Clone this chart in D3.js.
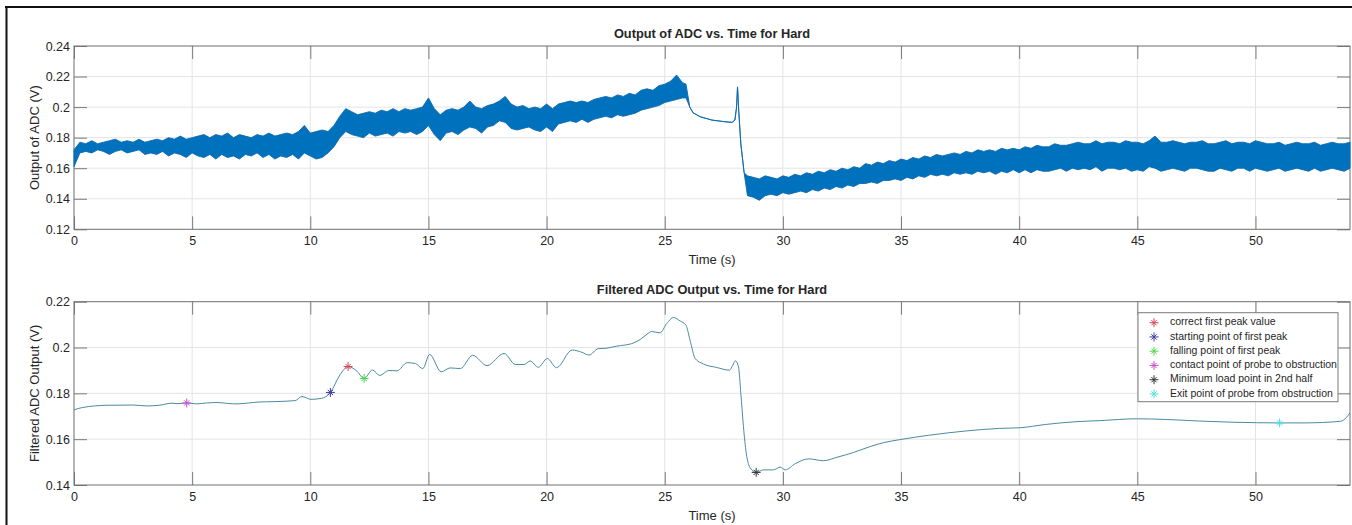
<!DOCTYPE html>
<html lang="en">
<head>
<meta charset="utf-8">
<script src="https://d3js.org/d3.v7.min.js"></script>
<style>
  body { margin: 0; background: #fff; }
  text { font-family: "Liberation Sans", Arial, sans-serif; fill: #262626; }
</style>
</head>
<body>
<script>
// raw ADC output, drawn as a min / max envelope of the noisy trace
const rawTime = [
  0, 0.25, 0.5, 0.75, 1, 1.25, 1.5, 1.75,
  2, 2.25, 2.5, 2.75, 3, 3.25, 3.5, 3.75,
  4, 4.25, 4.5, 4.75, 5, 5.25, 5.5, 5.75,
  6, 6.25, 6.5, 6.75, 7, 7.25, 7.5, 7.75,
  8, 8.25, 8.5, 8.75, 9, 9.25, 9.5, 9.75,
  10, 10.25, 10.5, 10.75, 11, 11.25, 11.5, 11.75,
  12, 12.25, 12.5, 12.75, 13, 13.25, 13.5, 13.75,
  14, 14.25, 14.5, 14.75, 15, 15.25, 15.5, 15.75,
  16, 16.25, 16.5, 16.75, 17, 17.25, 17.5, 17.75,
  18, 18.25, 18.5, 18.75, 19, 19.25, 19.5, 19.75,
  20, 20.25, 20.5, 20.75, 21, 21.25, 21.5, 21.75,
  22, 22.25, 22.5, 22.75, 23, 23.25, 23.5, 23.75,
  24, 24.25, 24.5, 24.75, 25, 25.25, 25.5, 25.75,
  25.9, 26.06, 26.2, 26.5, 27, 27.5, 27.85, 27.97, 28.04, 28.08, 28.13, 28.22, 28.36,
  28.5, 28.75, 29, 29.25, 29.5, 29.75, 30, 30.25,
  30.5, 30.75, 31, 31.25, 31.5, 31.75, 32, 32.25,
  32.5, 32.75, 33, 33.25, 33.5, 33.75, 34, 34.25,
  34.5, 34.75, 35, 35.25, 35.5, 35.75, 36, 36.25,
  36.5, 36.75, 37, 37.25, 37.5, 37.75, 38, 38.25,
  38.5, 38.75, 39, 39.25, 39.5, 39.75, 40, 40.25,
  40.5, 40.75, 41, 41.25, 41.5, 41.75, 42, 42.25,
  42.5, 42.75, 43, 43.25, 43.5, 43.75, 44, 44.25,
  44.5, 44.75, 45, 45.25, 45.5, 45.75, 46, 46.25,
  46.5, 46.75, 47, 47.25, 47.5, 47.75, 48, 48.25,
  48.5, 48.75, 49, 49.25, 49.5, 49.75, 50, 50.25,
  50.5, 50.75, 51, 51.25, 51.5, 51.75, 52, 52.25,
  52.5, 52.75, 53, 53.25, 53.5, 53.75, 54
];
const rawHigh = [
  0.172, 0.177, 0.176, 0.178, 0.176, 0.177, 0.178, 0.179,
  0.177, 0.178, 0.177, 0.179, 0.177, 0.178, 0.179, 0.178,
  0.180, 0.179, 0.181, 0.179, 0.180, 0.181, 0.182, 0.180,
  0.182, 0.181, 0.183, 0.180, 0.182, 0.181, 0.180, 0.182,
  0.181, 0.183, 0.181, 0.182, 0.183, 0.182, 0.184, 0.188,
  0.183, 0.184, 0.185, 0.184, 0.188, 0.194, 0.199, 0.197,
  0.195, 0.196, 0.197, 0.196, 0.198, 0.197, 0.199, 0.197,
  0.199, 0.198, 0.199, 0.200, 0.206, 0.199, 0.195, 0.198,
  0.199, 0.198, 0.200, 0.204, 0.200, 0.199, 0.201, 0.202,
  0.204, 0.207, 0.202, 0.200, 0.201, 0.199, 0.200, 0.199,
  0.202, 0.199, 0.202, 0.203, 0.204, 0.203, 0.204, 0.203,
  0.205, 0.206, 0.207, 0.206, 0.208, 0.207, 0.209, 0.208,
  0.211, 0.212, 0.211, 0.214, 0.215, 0.217, 0.221, 0.216,
  0.215, 0.200, 0.1963, 0.1937, 0.1915, 0.1905, 0.1900, 0.1915, 0.2000, 0.2132, 0.1980, 0.1760, 0.1570,
  0.155, 0.154, 0.153, 0.155, 0.154, 0.153, 0.155, 0.154,
  0.156, 0.155, 0.157, 0.156, 0.158, 0.157, 0.159, 0.158,
  0.160, 0.159, 0.161, 0.160, 0.163, 0.162, 0.164, 0.163,
  0.165, 0.164, 0.166, 0.165, 0.167, 0.166, 0.168, 0.167,
  0.169, 0.168, 0.169, 0.170, 0.169, 0.171, 0.170, 0.172,
  0.171, 0.172, 0.171, 0.173, 0.172, 0.173, 0.172, 0.174,
  0.173, 0.175, 0.174, 0.174, 0.176, 0.175, 0.175, 0.176,
  0.177, 0.176, 0.176, 0.178, 0.176, 0.177, 0.177, 0.176,
  0.178, 0.177, 0.177, 0.176, 0.178, 0.181, 0.177, 0.177,
  0.178, 0.177, 0.176, 0.177, 0.177, 0.178, 0.176, 0.176,
  0.177, 0.178, 0.176, 0.177, 0.177, 0.176, 0.178, 0.177,
  0.176, 0.176, 0.177, 0.175, 0.176, 0.177, 0.176, 0.176,
  0.177, 0.175, 0.176, 0.177, 0.176, 0.176, 0.177
];
const rawLow = [
  0.161, 0.170, 0.171, 0.170, 0.172, 0.171, 0.169, 0.171,
  0.172, 0.170, 0.171, 0.172, 0.169, 0.170, 0.169, 0.171,
  0.168, 0.170, 0.169, 0.167, 0.170, 0.168, 0.167, 0.169,
  0.166, 0.169, 0.167, 0.168, 0.166, 0.169, 0.168, 0.170,
  0.167, 0.169, 0.166, 0.168, 0.167, 0.169, 0.166, 0.170,
  0.168, 0.166, 0.167, 0.170, 0.174, 0.180, 0.184, 0.182,
  0.181, 0.180, 0.183, 0.181, 0.182, 0.183, 0.181, 0.184,
  0.183, 0.184, 0.182, 0.184, 0.188, 0.182, 0.178, 0.183,
  0.184, 0.182, 0.185, 0.187, 0.186, 0.183, 0.187, 0.188,
  0.191, 0.190, 0.186, 0.185, 0.186, 0.187, 0.185, 0.184,
  0.187, 0.184, 0.189, 0.190, 0.191, 0.190, 0.192, 0.190,
  0.192, 0.193, 0.194, 0.193, 0.195, 0.194, 0.195, 0.196,
  0.198, 0.199, 0.200, 0.201, 0.203, 0.204, 0.205, 0.206,
  0.206, 0.200, 0.1963, 0.1937, 0.1915, 0.1905, 0.1900, 0.1915, 0.2000, 0.2132, 0.1980, 0.1760, 0.1570,
  0.142, 0.141, 0.139, 0.142, 0.143, 0.142, 0.144, 0.143,
  0.144, 0.145, 0.144, 0.146, 0.145, 0.147, 0.146, 0.148,
  0.147, 0.149, 0.148, 0.150, 0.150, 0.151, 0.150, 0.152,
  0.152, 0.153, 0.152, 0.154, 0.153, 0.155, 0.154, 0.156,
  0.155, 0.156, 0.155, 0.157, 0.156, 0.157, 0.156, 0.158,
  0.157, 0.158, 0.156, 0.158, 0.157, 0.159, 0.157, 0.159,
  0.157, 0.159, 0.158, 0.158, 0.159, 0.160, 0.158, 0.160,
  0.159, 0.160, 0.159, 0.161, 0.158, 0.160, 0.160, 0.159,
  0.160, 0.158, 0.159, 0.158, 0.161, 0.160, 0.158, 0.159,
  0.160, 0.159, 0.158, 0.160, 0.160, 0.159, 0.158, 0.158,
  0.160, 0.159, 0.158, 0.160, 0.160, 0.158, 0.160, 0.159,
  0.158, 0.159, 0.160, 0.158, 0.159, 0.160, 0.159, 0.158,
  0.160, 0.158, 0.159, 0.160, 0.159, 0.158, 0.160
];

// filtered ADC output
const filtTime = [
  0, 0.35, 1.4, 2.5, 3.1, 3.6, 4.15, 4.4, 4.77, 5.2, 5.6, 6.05, 6.5, 6.9, 7.4, 7.8,
  8.5, 9.35, 9.65, 10.03, 10.47, 10.85, 11.25, 11.6, 11.94, 12.28, 12.63, 12.94, 13.32, 13.67,
  14.1, 14.45, 14.76, 15.05, 15.54, 15.92, 16.35, 16.87, 17.48, 18.2, 18.68, 19.05, 19.3, 19.65,
  20.03, 20.42, 21.08, 21.5, 21.8, 22.18, 22.52, 22.97, 23.6, 23.96, 24.3, 24.45, 24.8, 25.08,
  25.37, 25.65, 25.9, 26.07, 26.29, 26.64, 27.2, 27.74, 27.88, 27.99, 28.12, 28.22, 28.33, 28.45,
  28.62, 28.87, 29.18, 29.6, 29.89, 30.1, 30.52, 31.09, 31.72, 32.29, 32.99, 33.7, 34.27, 34.95,
  36.17, 37.76, 39.17, 40.05, 41.1, 42.35, 43.4, 45, 46.23, 47.64, 49.05, 51.02, 52.05, 53.6,
  53.85, 54
];
const filtValue = [
  0.1728, 0.1738, 0.1748, 0.1749, 0.1745, 0.1748, 0.1757, 0.1755, 0.1758, 0.1754, 0.1758, 0.1760, 0.1756, 0.1754, 0.1758, 0.1762,
  0.1764, 0.1768, 0.1786, 0.1774, 0.1778, 0.1804, 0.1880, 0.1917, 0.1900, 0.1865, 0.1902, 0.1878, 0.1900, 0.1898,
  0.1934, 0.1930, 0.1908, 0.1970, 0.1894, 0.1911, 0.1908, 0.1966, 0.1921, 0.1974, 0.1926, 0.1926, 0.1941, 0.1914,
  0.1952, 0.1912, 0.1989, 0.1979, 0.1967, 0.1995, 0.1997, 0.2006, 0.2017, 0.2035, 0.2062, 0.2070, 0.2064, 0.2104,
  0.2131, 0.2116, 0.2097, 0.2032, 0.1952, 0.1928, 0.1913, 0.1901, 0.1923, 0.1942, 0.1916, 0.1800, 0.1655, 0.1539,
  0.1474, 0.1455, 0.1466, 0.1466, 0.1478, 0.1466, 0.1493, 0.1514, 0.1506, 0.1521, 0.1542, 0.1568, 0.1585, 0.1598,
  0.1617, 0.1636, 0.1647, 0.1650, 0.1664, 0.1676, 0.1681, 0.1689, 0.1686, 0.1679, 0.1674, 0.1671, 0.1671, 0.1678,
  0.1695, 0.1715
];

// detected points
const markerNames = [
  "correct first peak value",
  "starting point of first peak",
  "falling point of first peak",
  "contact point of probe to obstruction",
  "Minimum load point in 2nd half",
  "Exit point of probe from obstruction"
];
const markerTime = [11.6, 10.85, 12.28, 4.77, 28.87, 51.02];
const markerValue = [0.1917, 0.1804, 0.1865, 0.1758, 0.1455, 0.1671];
const markerColors = ["#d9434f", "#3a3aa8", "#4fd64f", "#cf4fd0", "#333333", "#4fe0dc"];

const xTicks = [0, 5, 10, 15, 20, 25, 30, 35, 40, 45, 50];
const topYTicks = [0.12, 0.14, 0.16, 0.18, 0.2, 0.22, 0.24];
const bottomYTicks = [0.14, 0.16, 0.18, 0.2, 0.22];

const W = 1352, H = 525;
var svg = d3.select("body").append("svg")
  .attr("width", W)
  .attr("height", H);

// figure frame
svg.append("line").attr("x1", 5).attr("x2", W).attr("y1", 7).attr("y2", 7)
  .attr("stroke", "#111").attr("stroke-width", 2);
svg.append("line").attr("x1", 6.5).attr("x2", 6.5).attr("y1", 6).attr("y2", H)
  .attr("stroke", "#111").attr("stroke-width", 2);

// one matlab style axes box
function drawPanel(p) {
  var g = svg.append("g").attr("transform", "translate(" + p.left + "," + p.top + ")");
  var x = d3.scaleLinear().domain([0, 54]).range([0, p.width]);
  var y = d3.scaleLinear().domain(p.yDomain).range([p.height, 0]);

  // grid
  g.append("g").selectAll("line").data(xTicks.slice(1)).join("line")
    .attr("x1", d => x(d)).attr("x2", d => x(d))
    .attr("y1", 0).attr("y2", p.height)
    .attr("stroke", "#e4e4e4");
  g.append("g").selectAll("line").data(p.yTicks.slice(1, -1)).join("line")
    .attr("x1", 0).attr("x2", p.width)
    .attr("y1", d => y(d)).attr("y2", d => y(d))
    .attr("stroke", "#e4e4e4");

  // inner ticks on all four sides
  var tl = 13;
  var ax = [
    d3.axisBottom(x).tickValues(xTicks).tickSize(-tl).tickPadding(7).tickFormat(d3.format("d")),
    d3.axisTop(x).tickValues(xTicks).tickSize(-tl).tickFormat(""),
    d3.axisLeft(y).tickValues(p.yTicks).tickSize(-tl).tickPadding(4).tickFormat(d => String(+d.toFixed(2))),
    d3.axisRight(y).tickValues(p.yTicks).tickSize(-tl).tickFormat("")
  ];
  var pos = ["translate(0," + p.height + ")", "translate(0,0)", "translate(0,0)", "translate(" + p.width + ",0)"];
  ax.forEach(function(a, i) {
    var ag = g.append("g").attr("transform", pos[i]).call(a);
    ag.select(".domain").remove();
    ag.selectAll("line").attr("stroke", "#7a7a7a");
    ag.selectAll("text").attr("font-size", 12.5).attr("fill", "#262626")
      .attr("font-family", '"Liberation Sans", Arial, sans-serif');
  });

  g.append("rect").attr("width", p.width).attr("height", p.height)
    .attr("fill", "none").attr("stroke", "#6f6f6f").attr("stroke-width", 1);

  // titles
  g.append("text").attr("x", p.width / 2).attr("y", -8)
    .attr("text-anchor", "middle").attr("font-size", 12.8).attr("font-weight", "bold")
    .text(p.title);
  g.append("text").attr("x", p.width / 2).attr("y", p.height + 35)
    .attr("text-anchor", "middle").attr("font-size", 13)
    .text("Time (s)");
  g.append("text")
    .attr("transform", "translate(" + (36 - p.left) + "," + (p.height / 2) + ") rotate(-90)")
    .attr("text-anchor", "middle").attr("dominant-baseline", "middle").attr("font-size", 13)
    .text(p.yLabel);

  return {g: g, x: x, y: y};
}

// top panel: raw output
var topPanel = drawPanel({
  left: 74, top: 46, width: 1276, height: 183.3,
  yDomain: [0.12, 0.24], yTicks: topYTicks,
  title: "Output of ADC vs. Time for Hard", yLabel: "Output of ADC (V)"
});
var rawData = rawTime.map((t, i) => ({t: t, hi: rawHigh[i], lo: rawLow[i]}));
topPanel.g.append("path")
  .datum(rawData)
  .attr("fill", "#0072bd")
  .attr("stroke", "#0a6aae")
  .attr("stroke-width", 0.9)
  .attr("d", d3.area()
    .x(d => topPanel.x(d.t))
    .y0(d => topPanel.y(d.lo))
    .y1(d => topPanel.y(d.hi)));

// bottom panel: filtered output
var botPanel = drawPanel({
  left: 74, top: 301.7, width: 1276, height: 183.3,
  yDomain: [0.14, 0.22], yTicks: bottomYTicks,
  title: "Filtered ADC Output vs. Time for Hard", yLabel: "Filtered ADC Output (V)"
});
var filtData = filtTime.map((t, i) => ({t: t, v: filtValue[i]}));
botPanel.g.append("path")
  .datum(filtData)
  .attr("fill", "none")
  .attr("stroke", "#4b8aa3")
  .attr("stroke-width", 1)
  .attr("d", d3.line()
    .x(d => botPanel.x(d.t))
    .y(d => botPanel.y(d.v))
    .curve(d3.curveMonotoneX));

// asterisk marker = plus + times
function star(sel, size) {
  sel.append("path").attr("d", d3.symbol(d3.symbolPlus, size)());
  sel.append("path").attr("d", d3.symbol(d3.symbolTimes, size * 0.7)());
}

botPanel.g.append("g").selectAll("g").data(markerTime).join("g")
  .attr("transform", (d, i) => "translate(" + botPanel.x(d) + "," + botPanel.y(markerValue[i]) + ")")
  .attr("fill", "none")
  .attr("stroke", (d, i) => markerColors[i])
  .attr("stroke-width", 1)
  .each(function() { star(d3.select(this), 28); });

// legend
var lg = svg.append("g").attr("transform", "translate(1138,312.7)");
lg.append("rect").attr("width", 200).attr("height", 89)
  .attr("fill", "#fff").attr("stroke", "#7a7a7a").attr("stroke-width", 1);
var item = lg.selectAll("g.item").data(markerNames).join("g")
  .attr("class", "item")
  .attr("transform", (d, i) => "translate(0," + (10 + i * 14.25) + ")");
item.append("g")
  .attr("transform", "translate(16,0)")
  .attr("fill", "none")
  .attr("stroke", (d, i) => markerColors[i])
  .attr("stroke-width", 1)
  .each(function() { star(d3.select(this), 28); });
item.append("text")
  .attr("x", 32).attr("dominant-baseline", "middle")
  .attr("font-size", 10.5)
  .text(d => d);
</script>
</body>
</html>
